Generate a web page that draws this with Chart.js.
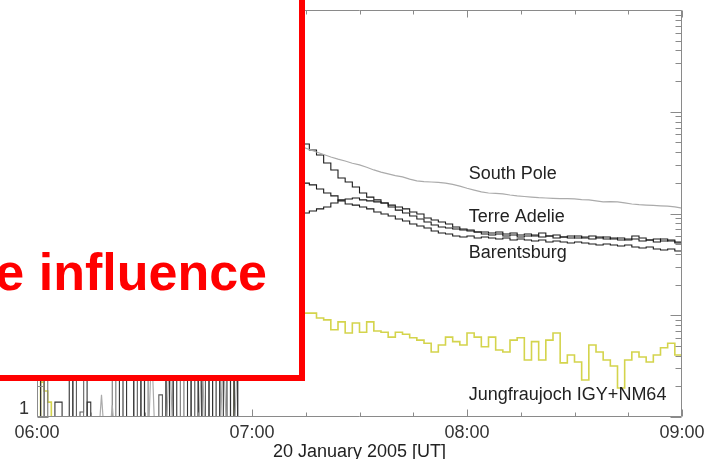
<!DOCTYPE html>
<html><head><meta charset="utf-8">
<script src="https://cdn.jsdelivr.net/npm/chart.js@4/dist/chart.umd.min.js"></script>
<style>html,body{margin:0;padding:0;background:#fff;}</style>
</head><body>
<canvas id="c" width="704" height="459"></canvas>
<script>
// ---- data: minutes after 06:00 UT, percent increase (log axis) ----
const T_PRE = [0,1,2,3,4,5,6,7,8,9,10,11,12,13,14,15,16,17,18,19,20,21,22,23,24,25,26,27,28,29,30,31,32,33,34,35,36,37,38,39,40,41,42,43,44,45,46,47,48,49,50,51,52,53,54,55,56,57];
const T_EVT = [58,60,62,64,66,68,70,72,74,76,78,80,82,84,86,88,90,92,94,96,98,100,102,104,106,108,110,112,114,116,118,120,122,124,126,128,130,132,134,136,138,140,142,144,146,148,150,152,154,156,158,160,162,164,166,168,170,172,174,176,178,180];

const SOUTH_POLE_PRE = [0.5,0.5,0.5,0.5,0.5,0.5,0.5,0.5,0.5,0.5,0.5,0.5,0.5,0.5,0.5,0.5,0.5,0.5,1.65,0.5,0.5,1.3,0.5,0.5,0.5,0.5,0.5,0.5,0.5,0.5,0.5,0.5,5,0.5,0.5,0.5,0.5,5,0.5,0.5,0.5,0.5,0.5,0.5,0.5,0.5,5,0.5,0.5,0.5,0.5,0.5,5,0.5,0.5,0.5,5,5];
const SOUTH_POLE_EVT = [20,400,1800,2600,1500,900,650,520,451,425,402,380,359,342,328,312,300,285,268,255,245,236,229,218,209,206,204,202,199,193,186,177,170,163,159,158,156,152,149,147,145,143,142,141,140,140,139,137,136,133,130,131,130,127,124,122,121,120,119,118,116,113];

const TERRE_ADELIE_PRE = [5,0.5,0.5,0.5,0.5,1.4,1.4,0.5,0.5,5,0.5,0.5,0.5,0.5,1.4,0.5,0.5,0.5,0.5,0.5,0.5,0.5,0.5,5,0.5,5,5,0.5,0.5,5,0.5,0.5,0.5,0.5,0.5,0.5,5,0.5,5,0.5,0.5,0.5,5,0.5,0.5,5,0.5,0.5,5,0.5,0.5,5,0.5,0.5,5,0.5,5,5];
const TERRE_ADELIE_EVT = [10,300,1200,1000,800,650,560,500,482,421,376,314,268,223,204,182,159,145,136,127,116,108,101,94.5,88.3,82.5,77.1,73.6,72.0,70.4,68.8,67.3,65.8,65.8,64.3,65.8,62.9,64.3,61.5,62.9,60.1,64.3,60.1,61.5,58.7,60.1,57.4,58.7,60.1,57.4,58.7,56.1,57.4,54.9,56.1,53.7,54.9,56.1,53.7,54.9,52.5,53.7];

const BARENTSBURG_PRE = [0.5,5,0.5,0.5,0.5,0.5,0.5,0.5,0.5,0.5,5,0.5,1.12,5,0.5,0.5,0.5,0.5,0.5,0.5,0.5,0.5,0.5,0.5,0.5,0.5,0.5,5,0.5,5,0.5,0.5,0.5,0.5,1.65,0.5,5,5,0.5,0.5,0.5,0.5,0.5,5,0.5,5,0.5,5,0.5,5,0.5,5,5,0.5,5,0.5,5,5];
const BARENTSBURG_EVT = [6,100,400,350,300,260,230,210,199,191,174,159,149,133,124,121,116,111,103.5,98.9,94.5,88.3,84.4,78.9,75.4,72.0,67.3,64.3,62.9,60.1,58.7,60.1,57.4,58.7,57.4,56.1,57.4,54.9,56.1,54.9,53.7,54.9,52.5,53.7,52.5,51.3,52.5,51.3,50.1,49.0,50.1,49.0,47.9,49.0,46.9,45.8,46.9,44.8,43.8,44.8,42.8,40.9];

const THIRD_STATION_PRE = [0.5,0.5,5,0.5,0.5,0.5,0.5,0.5,0.5,0.5,0.5,0.5,0.5,5,0.5,0.5,0.5,0.5,0.5,0.5,0.5,5,0.5,0.5,0.5,0.5,0.5,0.5,0.5,0.5,5,0.5,0.5,0.5,0.5,0.5,0.5,0.5,0.5,0.5,5,0.5,0.5,0.5,5,0.5,0.5,0.5,0.5,0.5,5,0.5,0.5,5,0.5,5,5,5];
const THIRD_STATION_EVT = [4,20,50,70,80,90,95,100,101,106,111,116,127,136,139,142,136,133,130,127,121,116,111,103.5,98.9,90.3,86.3,82.5,78.9,73.6,70.4,68.8,65.8,62.9,61.5,62.9,60.1,61.5,58.7,60.1,61.5,58.7,60.1,57.4,58.7,57.4,60.1,57.4,56.1,58.7,56.1,57.4,54.9,56.1,60.1,57.4,54.9,52.5,56.1,53.7,51.3,51.3];

const JUNGFRAU_PRE = [0.5,2.2,1.8,1.4,0.5,0.5,0.5,0.5,0.5,0.5,0.5,0.5,0.5,0.5,0.5,0.5,0.5,0.5,0.5,0.5,0.5,0.5,0.5,0.5,0.5,0.5,0.5,0.5,0.5,0.5,0.5,0.5,0.5,0.5,0.5,0.5,0.5,0.5,0.5,0.5,0.5,0.5,0.5,0.5,0.5,0.5,0.5,0.5,0.5,0.5,0.5,0.5,0.5,0.5,0.5,3,5,6];
const JUNGFRAU_EVT = [6,12,14,13,12,11.5,11,10.8,10.5,10.5,9.4,9.0,7.2,8.6,6.7,8.4,6.8,8.6,7.0,6.8,6.1,6.8,6.5,6.0,5.7,5.3,4.35,5.1,6.1,5.5,5.1,6.7,6.1,4.9,6.1,4.55,4.35,5.7,6.0,3.63,5.5,3.63,5.7,6.7,3.40,4.07,3.47,2.31,5.1,4.35,3.63,3.17,1.93,3.63,4.35,3.89,3.47,4.07,4.8,5.3,4.07,3.47];

const X_TICK_LABELS = {0:'06:00', 60:'07:00', 120:'08:00', 180:'09:00'};
const Y_TICK_LABELS = {1:'1', 10:'10', 100:'100', 1000:'1000', 10000:'10000'};
const LABEL_TEXT = ['South Pole', 'Terre Adelie', 'Barentsburg', 'Jungfraujoch IGY+NM64'];
const LABEL_T = [120.5, 120.5, 120.5, 120.5];
const LABEL_V = [245, 92.4, 40.9, 1.64];
const X_AXIS_TITLE = '20 January 2005 [UT]';
const OVERLAY_TEXT = 'e influence';
const ONSET_T = 58;

function pts(pre, evt) {
  const out = [];
  T_PRE.forEach((t, i) => out.push({x: t, y: pre[i]}));
  T_EVT.forEach((t, i) => out.push({x: t, y: evt[i]}));
  return out;
}

Chart.defaults.font.family = '"Liberation Sans", Arial, Helvetica, sans-serif';
Chart.defaults.font.size = 18;
Chart.defaults.color = '#333';

const overlay = {
  id: 'overlay',
  afterDatasetsDraw(chart) {
    const {ctx, chartArea: a, scales: {x, y}} = chart;
    ctx.save();
    ctx.strokeStyle = '#8a8a8a';
    ctx.lineWidth = 1;
    const L = Math.round(a.left) + 0.5, R = Math.round(a.right) - 0.5;
    const T = Math.round(a.top) + 0.5, B = Math.round(a.bottom) - 0.5;
    ctx.beginPath();
    ctx.rect(L, T, R - L, B - T);
    for (let t = 0; t <= 180; t += 15) {
      const px = Math.round(x.getPixelForValue(t)) + 0.5;
      const len = t % 60 === 0 ? 7 : 4;
      ctx.moveTo(px, B); ctx.lineTo(px, B - len);
      ctx.moveTo(px, T); ctx.lineTo(px, T + len);
    }
    for (let d = 1; d <= 10000; d *= 10) {
      for (let m = 1; m < 10; m++) {
        const v = d * m;
        if (v > 10000) break;
        const py = Math.round(y.getPixelForValue(v)) + 0.5;
        const len = m === 1 ? 11 : 6;
        ctx.moveTo(R, py); ctx.lineTo(R - len, py);
        ctx.moveTo(L, py); ctx.lineTo(L + len, py);
      }
    }
    ctx.stroke();
    ctx.fillStyle = '#222';
    ctx.font = '18px "Liberation Sans", Arial, sans-serif';
    ctx.textAlign = 'left';
    ctx.textBaseline = 'middle';
    LABEL_TEXT.forEach((s, i) => {
      ctx.fillText(s, x.getPixelForValue(LABEL_T[i]), y.getPixelForValue(LABEL_V[i]));
    });
    ctx.restore();
  },
  afterDraw(chart) {
    const ctx = chart.ctx;
    ctx.save();
    ctx.fillStyle = '#fff';
    ctx.fillRect(-20, -20, 322, 398);
    ctx.strokeStyle = '#ff0000';
    ctx.lineWidth = 6;
    ctx.strokeRect(-20, -20, 322, 398);
    ctx.fillStyle = '#ff0000';
    ctx.font = 'bold 52px "Liberation Sans", Arial, sans-serif';
    ctx.textAlign = 'right';
    ctx.textBaseline = 'alphabetic';
    ctx.fillText(OVERLAY_TEXT, 267, 290);
    ctx.restore();
  }
};

const black = '#1a1a1a';
const preGrey = (col, pre) => ({borderColor: c => (c.p1.parsed.x <= ONSET_T ? pre : col)});
new Chart(document.getElementById('c'), {
  type: 'line',
  data: {
    datasets: [
      {label: 'South Pole', data: pts(SOUTH_POLE_PRE, SOUTH_POLE_EVT), borderColor: '#ababab', borderWidth: 1.2, pointRadius: 0, stepped: false, tension: 0,
        segment: {stepped: c => c.p1.parsed.x <= ONSET_T}},
      {label: 'Terre Adelie', data: pts(TERRE_ADELIE_PRE, TERRE_ADELIE_EVT), borderColor: black, borderWidth: 1.1, pointRadius: 0, stepped: true, segment: preGrey(black, '#333')},
      {label: 'Third station', data: pts(THIRD_STATION_PRE, THIRD_STATION_EVT), borderColor: black, borderWidth: 1.1, pointRadius: 0, stepped: true, segment: preGrey(black, '#777')},
      {label: 'Barentsburg', data: pts(BARENTSBURG_PRE, BARENTSBURG_EVT), borderColor: black, borderWidth: 1.1, pointRadius: 0, stepped: true, segment: preGrey(black, '#5a5a5a')},
      {label: 'Jungfraujoch IGY+NM64', data: pts(JUNGFRAU_PRE, JUNGFRAU_EVT), borderColor: '#d4d44c', borderWidth: 1.6, pointRadius: 0, stepped: true}
    ]
  },
  options: {
    responsive: false,
    animation: false,
    devicePixelRatio: 1,
    layout: {padding: {top: 10, right: 22, left: 0, bottom: 0}},
    plugins: {legend: {display: false}, tooltip: {enabled: false}},
    scales: {
      x: {
        type: 'linear', min: 0, max: 180,
        grid: {display: false, drawTicks: false},
        border: {display: false},
        ticks: {stepSize: 15, autoSkip: false, maxRotation: 0, padding: 5, color: '#333',
          callback: v => X_TICK_LABELS[v] || ''},
        title: {display: true, text: X_AXIS_TITLE, color: '#222', font: {size: 18, lineHeight: 0.8}, padding: 0},
        afterFit(s) { s.height = 42; s.paddingLeft = 0; s.paddingRight = 0; }
      },
      y: {
        type: 'logarithmic', min: 1, max: 10000,
        grid: {display: false, drawTicks: false},
        border: {display: false},
        ticks: {padding: 8, labelOffset: -8, autoSkip: false, color: '#333',
          callback: v => Y_TICK_LABELS[v] || ''},
        afterFit(s) { s.width = 37; s.paddingTop = 0; s.paddingBottom = 0; }
      }
    }
  },
  plugins: [overlay]
});
</script>
</body></html>
